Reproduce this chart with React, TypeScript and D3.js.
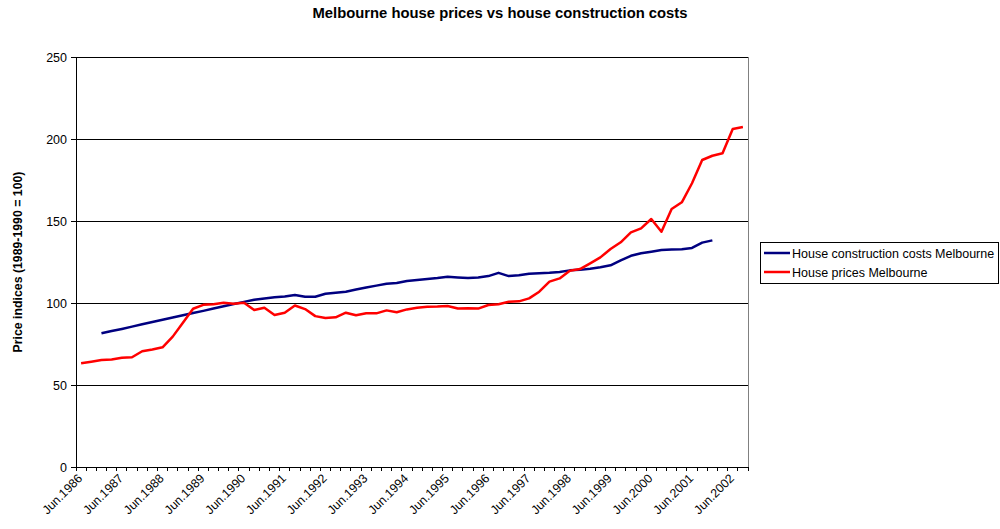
import React from "react";
import * as d3 from "d3";

const years = d3.range(1986, 2003);
const months = ["Mar", "Jun", "Sep", "Dec"];
// Quarterly categories Jun.1986 .. Sep.2002
const categories: string[] = [];
years.forEach((y) => months.forEach((m) => categories.push(`${m}.${y}`)));
const cats = categories.slice(categories.indexOf("Jun.1986"), categories.indexOf("Sep.2002") + 1);

const housePrices: number[] = [
  63.3, 64.2, 65.2, 65.6, 66.6, 66.9, 70.6, 71.7, 73.0, 79.5,
  88.0, 96.5, 98.9, 99.3, 100.1, 99.6, 100.2, 95.7, 97.1, 92.7,
  94.1, 98.5, 96.3, 92.0, 90.8, 91.3, 94.1, 92.5, 93.7, 93.7,
  95.5, 94.4, 96.1, 97.1, 97.7, 97.8, 98.2, 96.7, 96.8, 96.6,
  98.8, 99.2, 100.8, 101.0, 102.8, 106.9, 113.0, 115.0, 119.7, 120.7,
  124.2, 127.8, 132.9, 137.0, 143.1, 145.5, 151.2, 143.5, 157.3, 161.4,
  173.0, 187.2, 189.8, 191.3, 206.1, 207.3,
];

const constructionCosts: (number | null)[] = [
  null, null, 81.5, 82.9, 84.2, 85.6, 87.0, 88.4, 89.8, 91.1,
  92.5, 93.9, 95.2, 96.6, 98.0, 99.4, 100.7, 102.0, 102.8, 103.5,
  104.0, 104.9, 103.8, 103.8, 105.6, 106.3, 106.9, 108.2, 109.5, 110.6,
  111.8, 112.2, 113.4, 114.0, 114.6, 115.2, 116.0, 115.6, 115.3, 115.6,
  116.4, 118.4, 116.4, 116.9, 117.9, 118.1, 118.4, 118.9, 119.9, 120.2,
  120.9, 121.8, 123.0, 126.0, 128.8, 130.3, 131.3, 132.3, 132.6, 132.8,
  133.6, 136.8, 138.2, null, null, null,
];

const yTicks = [0, 50, 100, 150, 200, 250];

const series = [
  { name: "House construction costs Melbourne", values: constructionCosts, color: "#000080" },
  { name: "House prices Melbourne", values: housePrices, color: "#FF0000" },
];

const W = 1000;
const H = 529;
const L = 76, R = 748, T = 57, B = 467;
const FONT = "'Liberation Sans', Arial, sans-serif";

export default function App() {
  const x = d3.scaleBand<number>().domain(d3.range(cats.length)).range([L, R]).padding(0);
  const y = d3.scaleLinear().domain([0, 250]).range([B, T]);
  const cx = (i: number) => (x(i) as number) + x.bandwidth() / 2;
  const line = d3
    .line<number | null>()
    .defined((d) => d != null)
    .x((_, i) => cx(i))
    .y((d) => y(d as number));

  const tickXs = d3.range(cats.length + 1).map((i) => L + i * x.bandwidth());

  return (
    <svg width={W} height={H} style={{ position: "absolute", left: 0, top: 0, background: "#fff" }} fontFamily={FONT}>
      <rect x={0} y={0} width={W} height={H} fill="#fff" />
      <text x={500} y={18} textAnchor="middle" fontSize={14.8} fontWeight="bold">
        Melbourne house prices vs house construction costs
      </text>
      {/* gridlines */}
      {yTicks.filter((t) => t > 0).map((t) => (
        <line key={t} x1={L} x2={R} y1={y(t)} y2={y(t)} stroke="#000" strokeWidth={1} shapeRendering="crispEdges" />
      ))}
      {/* plot area right border */}
      <line x1={R} x2={R} y1={T} y2={B} stroke="#808080" strokeWidth={1} shapeRendering="crispEdges" />
      {/* y axis */}
      <line x1={L} x2={L} y1={T} y2={B} stroke="#000" strokeWidth={1} shapeRendering="crispEdges" />
      {yTicks.map((t) => (
        <g key={t}>
          <line x1={L - 5} x2={L} y1={y(t)} y2={y(t)} stroke="#000" shapeRendering="crispEdges" />
          <text x={L - 9} y={y(t) + 4.5} textAnchor="end" fontSize={12.5}>
            {t}
          </text>
        </g>
      ))}
      <text
        transform={`translate(22,${(T + B) / 2}) rotate(-90)`}
        textAnchor="middle"
        fontSize={12.3}
        fontWeight="bold"
      >
        Price indices (1989-1990 = 100)
      </text>
      {/* x axis */}
      <line x1={L} x2={R} y1={B} y2={B} stroke="#000" strokeWidth={1} shapeRendering="crispEdges" />
      {tickXs.map((tx, i) => (
        <line key={i} x1={tx} x2={tx} y1={B} y2={B + 4} stroke="#000" shapeRendering="crispEdges" />
      ))}
      {cats.map((c, i) =>
        c.startsWith("Jun") ? (
          <text
            key={c}
            transform={`translate(${cx(i) - 4},${B + 6}) rotate(-45)`}
            textAnchor="end"
            fontSize={12.3}
            dy="0.7em"
          >
            {c}
          </text>
        ) : null
      )}
      {/* lines */}
      {series.map((s) => (
        <path key={s.name} d={line(s.values) || ""} fill="none" stroke={s.color} strokeWidth={2.5} strokeLinejoin="round" />
      ))}
      {/* legend */}
      <rect x={760.5} y={242.5} width={238} height={41} fill="#fff" stroke="#000" strokeWidth={1} />
      {series.map((s, i) => (
        <g key={s.name}>
          <line x1={764} x2={790} y1={253 + i * 19} y2={253 + i * 19} stroke={s.color} strokeWidth={2.5} />
          <text x={792} y={257.5 + i * 19} fontSize={12.5}>
            {s.name}
          </text>
        </g>
      ))}
    </svg>
  );
}
